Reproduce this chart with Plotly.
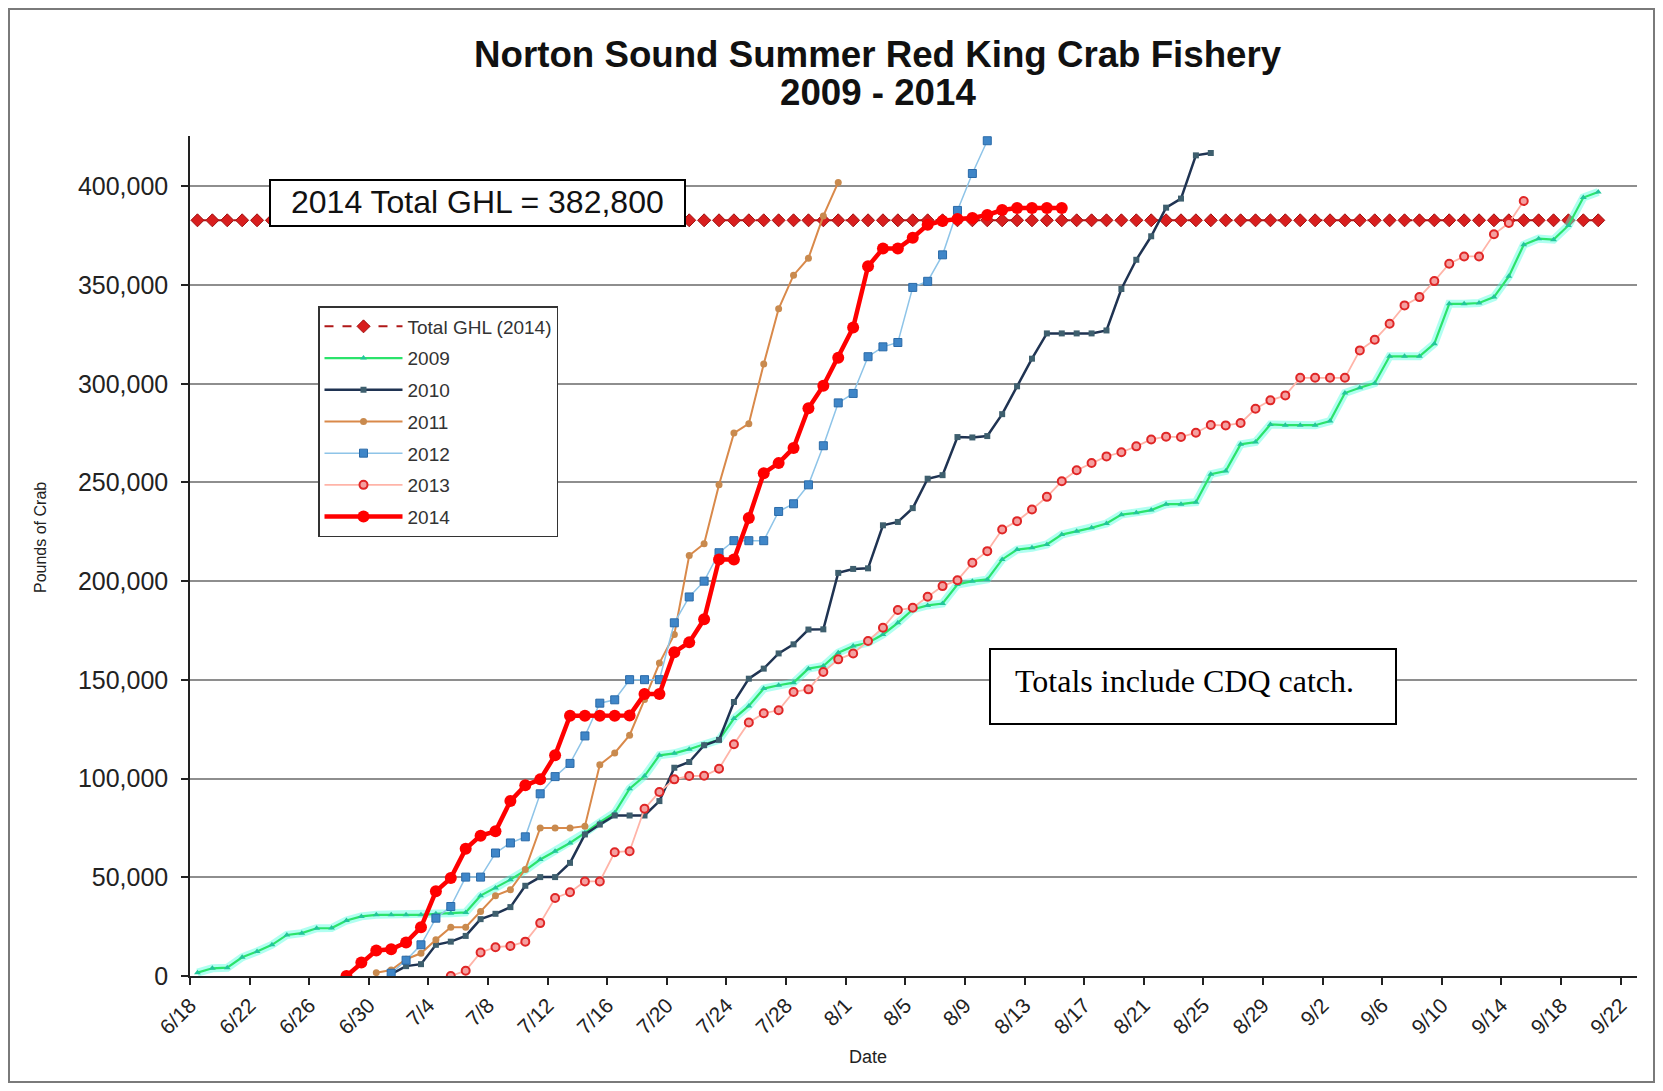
import pandas as pd
import plotly.graph_objects as go

YEAR = 2014

# ---------------- data (cumulative pounds of crab, one value per day) ----------------
ghl_label = "Total GHL (2014)"
ghl_value = 382800
ghl_start, ghl_end = "06-18", "09-20"

s2009_start = "06-18"
s2009 = [1700, 3900, 4200, 9500, 12400, 15800, 20800, 21700, 24200, 24300,
         28100, 30200, 31000, 31000, 31000, 31000, 31500, 31800, 32200, 40700,
         44600, 48800, 53500, 59000, 63200, 67400, 72500, 77900, 82700, 94900,
         101300, 111800, 112800, 114900, 117400, 119600, 130400, 136800, 145600, 147300,
         148600, 155700, 157000, 163800, 167100, 168800, 173000, 178900, 185700, 187700,
         188700, 198300, 200000, 200900, 211000, 216000, 216900, 218600, 223600, 225300,
         227000, 229200, 233700, 234600, 236000, 239000, 239000, 240000, 254200, 255800,
         269300, 270500, 279400, 279000, 279000, 279000, 281100, 295300, 298000, 300300,
         313900, 313900, 313900, 320300, 340500, 340500, 340900, 343900, 354400, 370400,
         373500, 373000, 380200, 394300, 397100]

s2010_start = "07-01"
s2010 = [1000, 5000, 6000, 15800, 17400, 20300, 28800, 31500, 34900, 45700,
         50100, 50100, 57300, 71700, 76700, 81300, 81300, 81300, 88600, 105500,
         108400, 116900, 119600, 138800, 150600, 155700, 163400, 168000, 175500, 175600,
         204200, 206200, 206500, 228300, 230000, 237000, 251900, 253700, 273000, 272800,
         273500, 284600, 298700, 312700, 325500, 325500, 325500, 325500, 327000, 348000,
         362800, 374700, 389200, 393800, 415700, 416900]

s2011_start = "06-30"
s2011 = [1700, 3000, 8500, 11500, 18300, 24700, 24700, 32700, 40700, 43700,
         54000, 75000, 75000, 75000, 75900, 107000, 113000, 122000, 140000, 158500,
         173000, 213000, 219000, 248800, 275000, 279800, 310000, 338000, 355000, 363600,
         385000, 402000]

s2012_start = "07-01"
s2012 = [1400, 8000, 15800, 29300, 35200, 50100, 50100, 62300, 67400, 70500,
         92300, 101000, 107700, 121600, 138200, 139900, 150100, 150100, 150100, 178900,
         192000, 200000, 214400, 220500, 220500, 220500, 235300, 239200, 248800, 268600,
         290300, 295100, 313700, 318700, 320900, 348800, 351900, 365300, 387800, 406500,
         423100]

s2013_start = "07-05"
s2013 = [0, 2700, 11900, 14600, 15200, 17400, 26800, 39500, 42400, 47900,
         47900, 62700, 63200, 84700, 93200, 99600, 101300, 101400, 105000, 117400,
         128400, 133100, 134600, 143900, 145200, 154000, 160400, 163400, 169700, 176400,
         185400, 186500, 192100, 197500, 200500, 209300, 215200, 226200, 230400, 236300,
         242700, 250600, 256200, 259900, 263200, 265300, 268300, 271800, 273200, 273000,
         275200, 279100, 278900, 280100, 287300, 291600, 294100, 303000, 303000, 303000,
         303000, 316900, 322300, 330400, 339700, 343900, 352000, 360800, 364500, 364500,
         375700, 381400, 392600]

s2014_start = "06-28"
s2014 = [0, 6800, 12900, 13500, 17000, 24700, 42900, 49600, 64400, 71100,
         73300, 88600, 96600, 99600, 111800, 131800, 131800, 131800, 131800, 132000,
         142800, 142800, 164000, 169000, 180700, 211000, 211000, 232000, 254700, 259800,
         267500, 287600, 299000, 313200, 328500, 359500, 368500, 368500, 374000, 380500,
         382500, 383500, 384000, 385500, 388000, 389000, 389000, 389000, 389000]

tick_start, tick_end, tick_step = "06-18", "09-22", "4D"
y_ticks = [0, 50000, 100000, 150000, 200000, 250000, 300000, 350000, 400000]

title_1 = "Norton Sound Summer Red King Crab Fishery"
title_2 = "2009 - 2014"
ghl_note = "2014 Total GHL = 382,800"
cdq_note = "Totals include CDQ catch."


def days(start, n):
    return pd.date_range(f"{YEAR}-{start}", periods=n, freq="D")


SANS = "Arial, 'Liberation Sans', sans-serif"
SERIF = "'Times New Roman', 'Liberation Serif', serif"

fig = go.Figure()

ghl_dates = pd.date_range(f"{YEAR}-{ghl_start}", f"{YEAR}-{ghl_end}", freq="D")
fig.add_trace(go.Scatter(
    x=ghl_dates, y=[ghl_value] * len(ghl_dates), name=ghl_label, legendgroup="g0",
    mode="lines+markers",
    line=dict(color="#B01818", width=2, dash="dash"),
    marker=dict(symbol="diamond", size=10, color="#D81E1E", line=dict(color="#A01010", width=1)),
))

# glow under the 2009 line
fig.add_trace(go.Scatter(
    x=days(s2009_start, len(s2009)), y=s2009, showlegend=False, hoverinfo="skip",
    mode="lines", line=dict(color="rgba(80,255,225,0.45)", width=8),
))

series = [
    ("2009", s2009_start, s2009, dict(color="#2BE36B", width=2.2),
     dict(symbol="triangle-up", size=6, color="#22C69A")),
    ("2010", s2010_start, s2010, dict(color="#1F3352", width=2.5),
     dict(symbol="square", size=6, color="#3E5F6E")),
    ("2011", s2011_start, s2011, dict(color="#D9894A", width=2),
     dict(symbol="circle", size=7, color="#C98A4E")),
    ("2012", s2012_start, s2012, dict(color="#8EC4E8", width=1.5),
     dict(symbol="square", size=8, color="#3F86C8", line=dict(color="#2A6AA8", width=1))),
    ("2013", s2013_start, s2013, dict(color="#FFB4A8", width=1.8),
     dict(symbol="circle", size=8, color="#F4A0A0", line=dict(color="#E02626", width=2))),
    ("2014", s2014_start, s2014, dict(color="#FF0000", width=4.5),
     dict(symbol="circle", size=12, color="#FF0000")),
]
for i, (name, start, vals, line, marker) in enumerate(series, start=1):
    fig.add_trace(go.Scatter(
        x=days(start, len(vals)), y=vals, name=name, legendgroup=f"g{i}",
        mode="lines+markers", line=line, marker=marker,
    ))

tick_dates = pd.date_range(f"{YEAR}-{tick_start}", f"{YEAR}-{tick_end}", freq=tick_step)
half = pd.Timedelta(hours=12)
x0 = tick_dates[0] - half
x1 = x0 + pd.Timedelta(days=97.1)

# the page body has an 8px margin; coordinates below are page pixels
OFF = 8
W, H = 1663 - 2 * OFF, 1091 - 2 * OFF
L, R, T, B = 190, 1637, 136, 976


def px(x):
    return (x - L) / (R - L)


def py(y):
    return (B - y) / (B - T)


fig.update_layout(
    width=W, height=H,
    margin=dict(l=L - OFF, r=W + OFF - R, t=T - OFF, b=H + OFF - B),
    paper_bgcolor="white", plot_bgcolor="white",
    font=dict(family=SANS, color="#222222"),
    showlegend=True,
    legend=dict(
        x=px(318), y=py(306), xanchor="left", yanchor="top",
        bgcolor="white", bordercolor="#333333", borderwidth=1.5,
        font=dict(size=19, family=SANS, color="#333333"),
        itemwidth=78, tracegroupgap=4, traceorder="grouped",
    ),
    xaxis=dict(
        range=[x0, x1], tickvals=list(tick_dates - half),
        ticktext=[f"{d.month}/{d.day}" for d in tick_dates],
        tickangle=-45, tickfont=dict(size=21, family=SANS, color="#222222"),
        showline=True, linecolor="#222222", linewidth=1.5,
        ticks="outside", ticklen=7, tickcolor="#222222", tickwidth=1.5,
        showgrid=False, zeroline=False,
    ),
    yaxis=dict(
        range=[0, 425500], tickvals=y_ticks, tickformat=",",
        tickfont=dict(size=25, family=SANS, color="#222222"),
        showline=True, linecolor="#222222", linewidth=1.5,
        ticks="outside", ticklen=7, tickcolor="#222222", tickwidth=1.5,
        ticklabelstandoff=8,
        showgrid=True, gridcolor="#8E8E8E", gridwidth=1.6, zeroline=False,
    ),
    shapes=[
        dict(type="rect", xref="paper", yref="paper", layer="above",
             x0=px(270), x1=px(685), y0=py(226), y1=py(180),
             fillcolor="white", line=dict(color="black", width=2)),
        dict(type="rect", xref="paper", yref="paper", layer="above",
             x0=px(990), x1=px(1396), y0=py(724), y1=py(649),
             fillcolor="white", line=dict(color="black", width=2)),
        dict(type="rect", xref="paper", yref="paper", layer="above",
             x0=px(9), x1=px(1654), y0=py(1082), y1=py(9),
             fillcolor="rgba(0,0,0,0)", line=dict(color="#7A7A7A", width=2)),
    ],
    annotations=[
        dict(text=f"<b>{title_1}</b>", xref="paper", yref="paper", x=px(878), y=py(55),
             showarrow=False, xanchor="center", yanchor="middle",
             font=dict(size=36.7, family=SANS, color="#111111")),
        dict(text=f"<b>{title_2}</b>", xref="paper", yref="paper", x=px(878), y=py(93),
             showarrow=False, xanchor="center", yanchor="middle",
             font=dict(size=36.7, family=SANS, color="#111111")),
        dict(text=ghl_note, xref="paper", yref="paper", x=px(477), y=py(202),
             showarrow=False, xanchor="center", yanchor="middle",
             font=dict(size=32, family=SANS, color="#111111")),
        dict(text=cdq_note, xref="paper", yref="paper", x=px(1013), y=py(681),
             showarrow=False, xanchor="left", yanchor="middle",
             font=dict(size=32, family=SERIF, color="black")),
        dict(text="Date", xref="paper", yref="paper", x=px(868), y=py(1057),
             showarrow=False, xanchor="center", yanchor="middle",
             font=dict(size=18, family=SANS, color="#222222")),
        dict(text="Pounds of Crab", xref="paper", yref="paper", x=px(40), y=py(538),
             showarrow=False, xanchor="center", yanchor="middle", textangle=-90,
             font=dict(size=16, family=SANS, color="#222222")),
    ],
)

fig.write_html("out.html")
